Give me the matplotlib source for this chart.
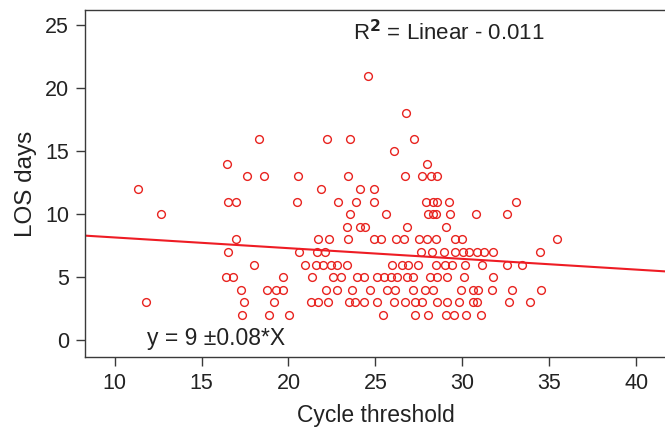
"""Scatter of length of stay against cycle threshold, with linear fit."""
import matplotlib

matplotlib.use("Agg")

import matplotlib.pyplot as plt
import numpy as np

# cycle threshold values, grouped by LOS level (same order as los_days)
cycle_threshold = [
    24.59,
    26.78,
    18.29, 22.19, 23.55, 27.20,
    26.09,
    16.47, 27.99,
    17.62, 18.62, 20.54, 23.44, 26.72, 27.70, 28.18, 28.55,
    11.33, 21.88, 24.09, 24.90,
    16.50, 16.96, 20.50, 22.84, 23.86, 24.90, 27.90, 28.34, 28.57, 29.22, 33.07,
    12.68, 23.53, 25.59, 28.01, 28.34, 28.47, 29.32, 30.80, 32.60,
    23.34, 24.09, 24.40, 26.84, 29.07,
    17.00, 21.71, 22.34, 23.40, 24.90, 25.34, 26.17, 26.65, 27.51, 27.99, 28.47,
    29.59, 29.97, 35.45,
    16.52, 20.62, 21.65, 22.09, 27.65, 28.26, 28.95, 29.59, 30.03, 30.40, 30.83,
    31.26, 31.78, 34.47,
    18.04, 20.96, 21.58, 22.00, 22.46, 22.80, 23.34, 25.98, 26.51, 26.86, 27.47,
    28.47, 28.99, 29.38, 30.13, 31.15, 32.60, 33.43,
    16.43, 16.81, 19.69, 21.34, 22.55, 23.01, 23.92, 24.34, 25.11, 25.50, 25.88,
    26.22, 26.80, 27.19, 28.15, 28.55, 29.12, 30.08, 31.78,
    17.25, 18.77, 19.29, 19.71, 22.13, 22.80, 23.67, 24.69, 25.69, 26.11, 27.19,
    27.86, 28.32, 29.95, 30.63, 30.91, 31.70, 32.85, 34.52,
    11.82, 17.46, 19.14, 21.27, 21.69, 22.29, 23.48, 23.80, 24.36, 25.11, 26.09,
    26.69, 27.28, 27.67, 28.53, 29.12, 29.80, 30.59, 30.87, 32.70, 33.89,
    17.31, 18.89, 20.03, 25.46, 27.28, 28.05, 29.09, 29.51, 30.24, 31.07,
]

los_days = (
    [21] * 1 + [18] * 1 + [16] * 4 + [15] * 1 + [14] * 2 + [13] * 8 + [12] * 4
    + [11] * 11 + [10] * 9 + [9] * 5 + [8] * 14 + [7] * 14 + [6] * 18
    + [5] * 19 + [4] * 19 + [3] * 21 + [2] * 10
)

fit_intercept = 9.0
fit_slope = -0.085

x_ticks = [10, 15, 20, 25, 30, 35, 40]
y_ticks = [0, 5, 10, 15, 20, 25]

RED = "#e8231f"
LINE_RED = "#ee1c24"
DARK = "#3a3a3a"
TEXT = "#222222"

plt.rcParams["font.family"] = ["Liberation Sans", "DejaVu Sans"]

fig = plt.figure(figsize=(6.65, 4.34), dpi=100)
ax = fig.add_axes([0.128, 0.177, 0.873, 0.800])

ax.plot(
    cycle_threshold,
    los_days,
    linestyle="none",
    marker="o",
    markersize=5.6,
    markerfacecolor="none",
    markeredgecolor=RED,
    markeredgewidth=1.0,
)

xlim = (8.3, 41.7)
xs = np.array(xlim)
ax.plot(xs, fit_intercept + fit_slope * xs, color=LINE_RED, linewidth=1.5)

ax.set_xlim(*xlim)
ax.set_ylim(-1.35, 26.2)
ax.set_xticks(x_ticks)
ax.set_yticks(y_ticks)

for spine in ax.spines.values():
    spine.set_color(DARK)
    spine.set_linewidth(1.0)

ax.tick_params(axis="both", colors=DARK, labelcolor=TEXT, labelsize=15.5,
               length=6.5, width=1.0, pad=5)

ax.set_xlabel("Cycle threshold", fontsize=16.5, color=TEXT, labelpad=7)
ax.set_ylabel("LOS days", fontsize=17.5, color=TEXT, labelpad=6)

ax.text(0.461, 0.935, r"R$^\mathbf{2}$ = Linear - 0.011", transform=ax.transAxes,
        fontsize=16, color=TEXT, ha="left", va="center")
ax.text(0.107, 0.055, "y = 9 \u00b10.08*X", transform=ax.transAxes,
        fontsize=16.5, color=TEXT, ha="left", va="center")

fig.savefig("out.png", dpi=100)
